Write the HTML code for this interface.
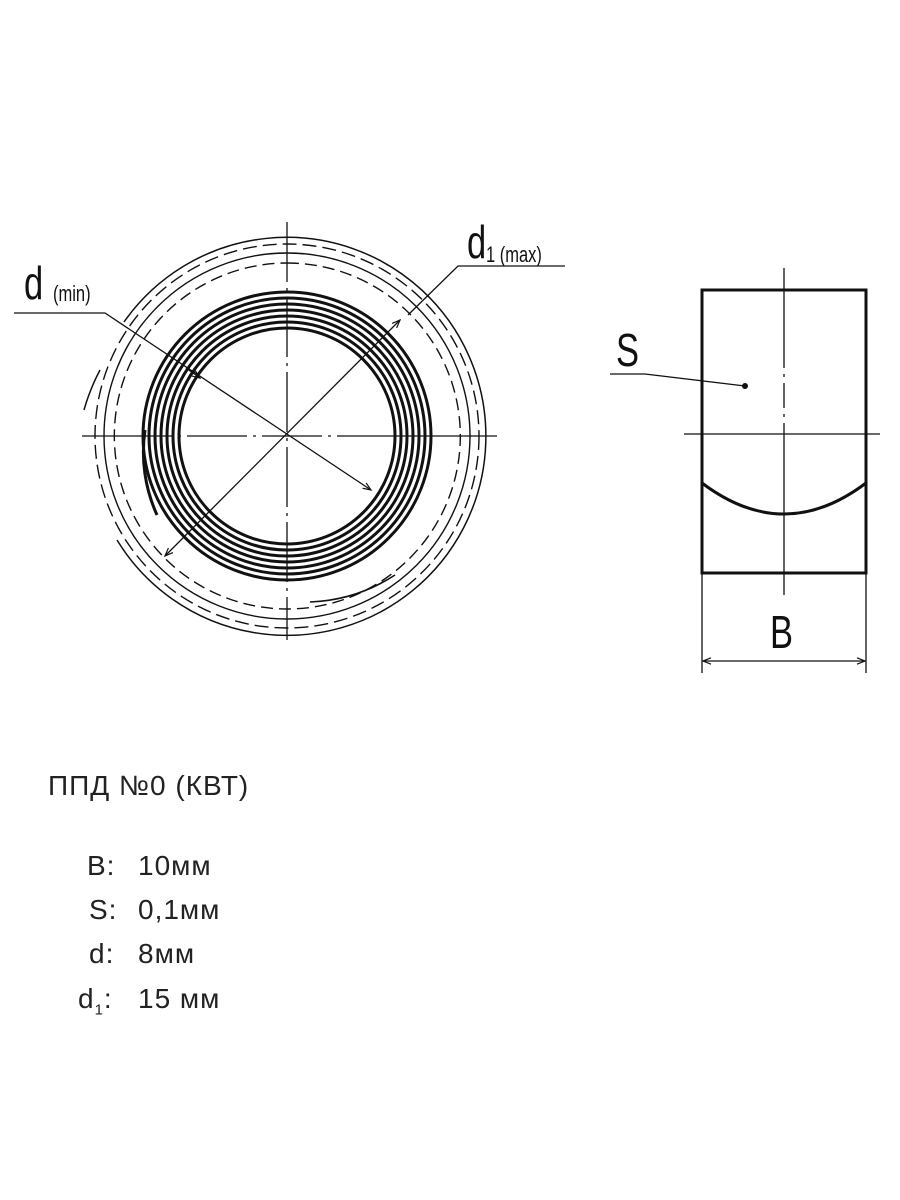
<!DOCTYPE html>
<html><head><meta charset="utf-8"><style>
body{margin:0;background:#fff;width:900px;height:1200px;overflow:hidden;font-family:"Liberation Sans","DejaVu Sans",sans-serif}
svg{position:absolute;left:0;top:0}
.t{position:absolute;font-size:28px;letter-spacing:1px;color:#222;white-space:nowrap}
</style></head><body>
<svg width="900" height="1200" viewBox="0 0 900 1200">
<defs><marker id="a" viewBox="0 0 10 10" refX="10" refY="5" markerWidth="12" markerHeight="8" orient="auto-start-reverse" markerUnits="userSpaceOnUse"><path d="M0,1 L10,5 L0,9" fill="none" stroke="#111" stroke-width="1.5"/></marker></defs>
<g fill="none" stroke="#111">
<line x1="287" y1="222" x2="287" y2="640" stroke-width="1.3" stroke-dasharray="60,6,3,6"/>
<line x1="82" y1="436" x2="497" y2="436" stroke-width="1.3" stroke-dasharray="90,6,3,6,60,6,3,6,60,6,3,6,200"/>
<path d="M 124 322 A 199 199 0 1 1 117 540" stroke-width="1.5"/>
<path d="M 84 410 A 205 205 0 0 1 100 370" stroke-width="1.5"/>
<circle cx="287" cy="436" r="192" stroke-width="1.4" stroke-dasharray="14,6"/>
<circle cx="287" cy="436" r="183" stroke-width="1.4"/>
<path d="M 287 263 A 173 173 0 1 1 120 480 A 173 173 0 0 1 287 263" stroke-width="1.4" stroke-dasharray="12,6"/>
<path d="M 310 602 A 168 168 0 0 0 395 575" stroke-width="1.6"/>
<g stroke-width="3">
<circle cx="287" cy="436" r="108"/><circle cx="287" cy="436" r="114"/><circle cx="287" cy="436" r="120"/><circle cx="287" cy="436" r="126"/><circle cx="287" cy="436" r="132"/><circle cx="287" cy="436" r="138"/><circle cx="287" cy="436" r="144"/>
</g>
<path d="M 157 515 A 152 152 0 0 1 145 430" stroke-width="3"/>
<polyline points="14,313 105,313 371,490" stroke-width="1.3" marker-end="url(#a)"/>
<line x1="186" y1="368" x2="200" y2="378" stroke-width="1.3" marker-end="url(#a)"/>
<polyline points="565,266 458,266 408,315" stroke-width="1.3"/>
<line x1="165" y1="556" x2="400" y2="320" stroke-width="1.3" marker-start="url(#a)" marker-end="url(#a)"/>
<rect x="702" y="290" width="164" height="283" stroke-width="3"/>
<line x1="784" y1="268" x2="784" y2="595" stroke-width="1.3" stroke-dasharray="100,6,3,6,25,6,3,6,200"/>
<line x1="684" y1="434" x2="880" y2="434" stroke-width="1.3"/>
<path d="M 702 483 Q 784 545 866 483" stroke-width="3"/>
<line x1="702" y1="573" x2="702" y2="673" stroke-width="1.3"/>
<line x1="866" y1="573" x2="866" y2="673" stroke-width="1.3"/>
<line x1="703" y1="661" x2="865" y2="661" stroke-width="1.3" marker-start="url(#a)" marker-end="url(#a)"/>
<polyline points="610,374 645,374 745,386" stroke-width="1.3"/>
</g>
<circle cx="745" cy="386" r="3" fill="#111"/>
<g fill="#111" font-family="'Liberation Sans',sans-serif">
<text x="24" y="299" font-size="46" transform="translate(24,0) scale(0.75,1) translate(-24,0)">d</text>
<text x="53" y="301" font-size="22" transform="translate(53,0) scale(0.75,1) translate(-53,0)">(min)</text>
<text x="467" y="258" font-size="46" transform="translate(467,0) scale(0.75,1) translate(-467,0)">d</text>
<text x="486" y="262" font-size="22" transform="translate(486,0) scale(0.75,1) translate(-486,0)">1 (max)</text>
<text x="616" y="366" font-size="46" transform="translate(616,0) scale(0.75,1) translate(-616,0)">S</text>
<text x="770" y="648" font-size="46" transform="translate(770,0) scale(0.75,1) translate(-770,0)">B</text>
</g>
</svg>
<div class="t" style="left:48px;top:770px">ППД №0 (КВТ)</div>
<div class="t" style="left:87px;top:850px">B:</div><div class="t" style="left:138px;top:850px">10мм</div>
<div class="t" style="left:89px;top:894px">S:</div><div class="t" style="left:138px;top:894px">0,1мм</div>
<div class="t" style="left:89px;top:938px">d:</div><div class="t" style="left:138px;top:938px">8мм</div>
<div class="t" style="left:78px;top:983px">d<sub style="font-size:15px">1</sub>:</div><div class="t" style="left:138px;top:983px">15 мм</div>
</body></html>
